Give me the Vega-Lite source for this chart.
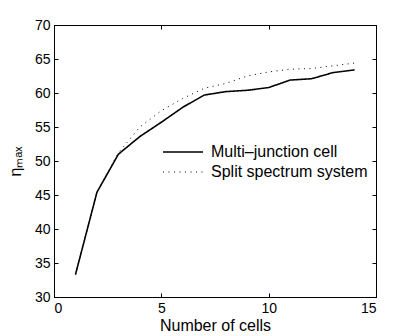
{
  "$schema": "https://vega.github.io/schema/vega-lite/v6.json",
  "width": 322,
  "height": 272,
  "autosize": {"type": "none"},
  "padding": {"left": 54, "top": 25, "right": 39, "bottom": 39},
  "background": "white",
  "config": {
    "font": "Liberation Sans",
    "view": {"stroke": "black", "strokeWidth": 1},
    "axis": {
      "grid": false,
      "domainColor": "black",
      "tickColor": "black",
      "labelColor": "black",
      "titleColor": "black",
      "tickSize": -4,
      "labelPadding": 8,
      "labelFontSize": 14,
      "titleFontSize": 16,
      "titleFontWeight": "normal"
    },
    "legend": {
      "orient": "none",
      "legendX": 121,
      "legendY": 119,
      "title": null,
      "labelFontSize": 16,
      "labelColor": "black",
      "symbolType": "M-4,0H4",
      "symbolSize": 100,
      "symbolStrokeColor": "black",
      "symbolFillColor": "transparent",
      "rowPadding": 4,
      "labelOffset": 20,
      "padding": 0
    }
  },
  "data": {
    "values": [
      {"n": 1, "eta": 33.3, "series": "Multi–junction cell"},
      {"n": 2, "eta": 45.4, "series": "Multi–junction cell"},
      {"n": 3, "eta": 51.0, "series": "Multi–junction cell"},
      {"n": 4, "eta": 53.6, "series": "Multi–junction cell"},
      {"n": 5, "eta": 55.7, "series": "Multi–junction cell"},
      {"n": 6, "eta": 57.9, "series": "Multi–junction cell"},
      {"n": 7, "eta": 59.7, "series": "Multi–junction cell"},
      {"n": 8, "eta": 60.2, "series": "Multi–junction cell"},
      {"n": 9, "eta": 60.4, "series": "Multi–junction cell"},
      {"n": 10, "eta": 60.8, "series": "Multi–junction cell"},
      {"n": 11, "eta": 61.9, "series": "Multi–junction cell"},
      {"n": 12, "eta": 62.1, "series": "Multi–junction cell"},
      {"n": 13, "eta": 63.0, "series": "Multi–junction cell"},
      {"n": 14, "eta": 63.4, "series": "Multi–junction cell"},
      {"n": 1, "eta": 33.3, "series": "Split spectrum system"},
      {"n": 2, "eta": 45.4, "series": "Split spectrum system"},
      {"n": 3, "eta": 51.2, "series": "Split spectrum system"},
      {"n": 4, "eta": 55.0, "series": "Split spectrum system"},
      {"n": 5, "eta": 57.4, "series": "Split spectrum system"},
      {"n": 6, "eta": 59.2, "series": "Split spectrum system"},
      {"n": 7, "eta": 60.7, "series": "Split spectrum system"},
      {"n": 8, "eta": 61.4, "series": "Split spectrum system"},
      {"n": 9, "eta": 62.5, "series": "Split spectrum system"},
      {"n": 10, "eta": 63.1, "series": "Split spectrum system"},
      {"n": 11, "eta": 63.5, "series": "Split spectrum system"},
      {"n": 12, "eta": 63.6, "series": "Split spectrum system"},
      {"n": 13, "eta": 64.0, "series": "Split spectrum system"},
      {"n": 14, "eta": 64.4, "series": "Split spectrum system"}
    ]
  },
  "layer": [
    {
      "mark": {"type": "line", "color": "black"},
      "encoding": {
        "x": {
          "field": "n", "type": "quantitative",
          "scale": {"domain": [0, 15], "nice": false},
          "axis": {"orient": "bottom", "values": [0, 5, 10, 15], "title": "Number of cells", "titlePadding": 2}
        },
        "y": {
          "field": "eta", "type": "quantitative",
          "scale": {"domain": [30, 70], "nice": false, "zero": false},
          "axis": {"orient": "left", "values": [30, 35, 40, 45, 50, 55, 60, 65, 70], "title": "ηₘₐₓ", "titlePadding": 11}
        },
        "strokeDash": {
          "field": "series", "type": "nominal",
          "scale": {"domain": ["Multi–junction cell", "Split spectrum system"], "range": [[1, 0], [1, 4.5]]}
        },
        "strokeWidth": {
          "field": "series", "type": "nominal",
          "scale": {"domain": ["Multi–junction cell", "Split spectrum system"], "range": [1.6, 1]}
        }
      }
    },
    {
      "mark": {"type": "line", "opacity": 0},
      "encoding": {
        "x": {
          "field": "n", "type": "quantitative",
          "scale": {"domain": [0, 15], "nice": false},
          "axis": {"orient": "top", "values": [0, 5, 10, 15], "labels": false, "title": null}
        },
        "y": {
          "field": "eta", "type": "quantitative",
          "scale": {"domain": [30, 70], "nice": false, "zero": false},
          "axis": {"orient": "right", "values": [30, 35, 40, 45, 50, 55, 60, 65, 70], "labels": false, "title": null}
        },
        "detail": {"field": "series"}
      }
    }
  ],
  "resolve": {"axis": {"x": "independent", "y": "independent"}}
}
